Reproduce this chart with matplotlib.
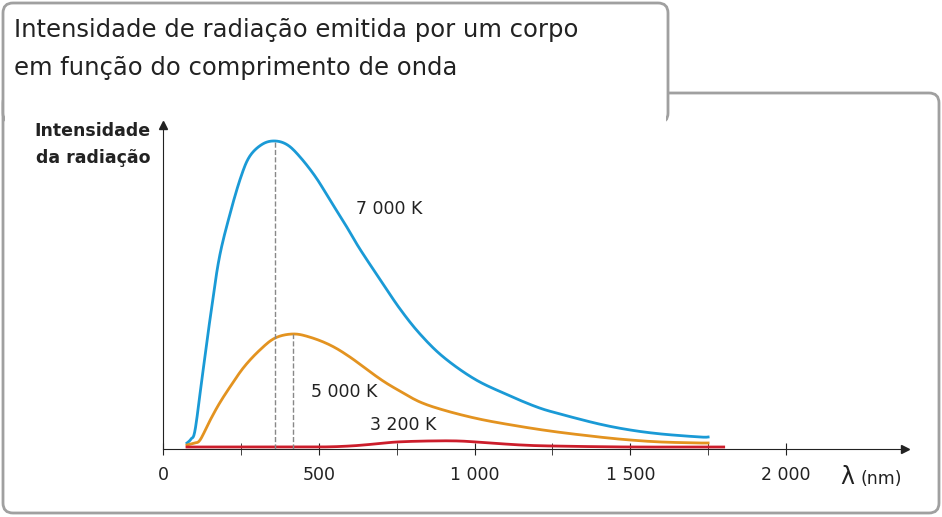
import matplotlib
matplotlib.use("Agg")
import matplotlib.pyplot as plt
from matplotlib.patches import FancyBboxPatch
import numpy as np

# wavelength (nm) and relative intensity
wl_7000 = [77, 90, 103, 125, 151, 180, 215, 250, 279, 320, 360, 400, 440, 490, 536, 590, 632, 700, 761, 825, 900, 1000, 1100, 1200, 1275, 1400, 1500, 1600, 1724, 1750]
i_7000 = [6, 10, 19, 70, 130, 190, 235, 272, 293, 305, 308, 304, 292, 272, 249, 222, 200, 168, 140, 115, 92, 70, 55, 42, 35, 25, 19, 15, 12, 12]
wl_5000 = [77, 100, 119, 150, 180, 215, 260, 311, 360, 417, 470, 536, 600, 697, 760, 825, 900, 1000, 1100, 1242, 1400, 1500, 1600, 1724, 1750]
i_5000 = [4, 6, 9, 28, 45, 62, 82, 99, 111, 115, 112, 104, 92, 70, 58, 47, 39, 31, 25, 18, 12, 9, 7, 6, 6]
wl_3200 = [77, 300, 500, 600, 680, 750, 850, 950, 1050, 1150, 1250, 1500, 1800]
i_3200 = [2, 2, 2, 3, 5, 7, 8, 8, 6, 4, 3, 2, 2]
xticks_major = [0, 500, 1000, 1500, 2000]
xticklabels = ["0", "500", "1 000", "1 500", "2 000"]


def smooth(xs, ys, n=12):
    """Catmull-Rom rendering through the given points."""
    x = np.asarray(xs, float); y = np.asarray(ys, float)
    px = np.concatenate([[x[0]], x, [x[-1]]]); py = np.concatenate([[y[0]], y, [y[-1]]])
    ox, oy = [], []
    t = np.linspace(0, 1, n, endpoint=False)
    for i in range(1, len(px) - 2):
        for P, out in ((px, ox), (py, oy)):
            p0, p1, p2, p3 = P[i-1], P[i], P[i+1], P[i+2]
            out.extend(0.5 * (2*p1 + (-p0 + p2)*t + (2*p0 - 5*p1 + 4*p2 - p3)*t**2 + (-p0 + 3*p1 - 3*p2 + p3)*t**3))
    ox.append(x[-1]); oy.append(y[-1])
    return ox, oy


W, H = 942, 517
fig = plt.figure(figsize=(W/100, H/100), dpi=100)
fig.patch.set_facecolor("white")
ax_bg = fig.add_axes([0, 0, 1, 1]); ax_bg.set_xlim(0, W); ax_bg.set_ylim(H, 0); ax_bg.axis("off")
ax_bg.add_patch(FancyBboxPatch((3, 93), 936, 420, boxstyle="round,pad=0,rounding_size=10", fc="white", ec="#a0a0a0", lw=2))
ax_bg.add_patch(FancyBboxPatch((3, 3), 665, 120, boxstyle="round,pad=0,rounding_size=10", fc="white", ec="#a0a0a0", lw=2))
ax_bg.add_patch(plt.Rectangle((5, 94), 661, 32, fc="white", ec="none"))
ax_bg.text(14, 30, "Intensidade de radiação emitida por um corpo", fontsize=17.5, va="center", color="#222")
ax_bg.text(14, 68, "em função do comprimento de onda", fontsize=17.5, va="center", color="#222")
ax_bg.text(150, 131, "Intensidade", fontsize=12.5, fontweight="bold", ha="right", va="center", color="#222")
ax_bg.text(150, 158, "da radiação", fontsize=12.5, fontweight="bold", ha="right", va="center", color="#222")
ax_bg.text(840, 477, "λ", fontsize=17, color="#222", va="center")
ax_bg.text(860, 479, "(nm)", fontsize=12.5, color="#222", va="center")

sc = 0.3115
x0, yb, yt = 163, 449, 125
xmax = (905 - x0) / sc
ax = fig.add_axes([x0/W, 1 - yb/H, (905 - x0)/W, (yb - yt)/H])
ax.set_xlim(0, xmax); ax.set_ylim(0, yb - yt)
for s in ["top", "right"]:
    ax.spines[s].set_visible(False)
ax.spines["left"].set_color("#222"); ax.spines["bottom"].set_color("#222")
ax.patch.set_alpha(0)
ax.plot(1, 0, ">", color="#222", transform=ax.transAxes, clip_on=False, ms=6)
ax.plot(0, 1, "^", color="#222", transform=ax.transAxes, clip_on=False, ms=6)
ax.set_yticks([])
ax.set_xticks(xticks_major); ax.set_xticklabels(xticklabels, fontsize=12.5, color="#222")
ax.set_xticks([250, 750, 1250, 1750], minor=True)
ax.tick_params(axis="x", which="both", direction="inout", length=8, color="#222", pad=8)

ax.plot(*smooth(wl_7000, i_7000), color="#1a9ad6", lw=2)
ax.plot(*smooth(wl_5000, i_5000), color="#e39320", lw=2)
ax.plot(*smooth(wl_3200, i_3200), color="#cc1d2b", lw=2)
ax.plot([360, 360], [0, 308], ls="--", color="#888", lw=1)
ax.plot([417, 417], [0, 115], ls="--", color="#888", lw=1)
ax.text(620, 240, "7 000 K", fontsize=12.5, color="#222", va="center")
ax.text(475, 57, "5 000 K", fontsize=12.5, color="#222", va="center")
ax.text(665, 24, "3 200 K", fontsize=12.5, color="#222", va="center")
fig.savefig("out.png", dpi=100)
